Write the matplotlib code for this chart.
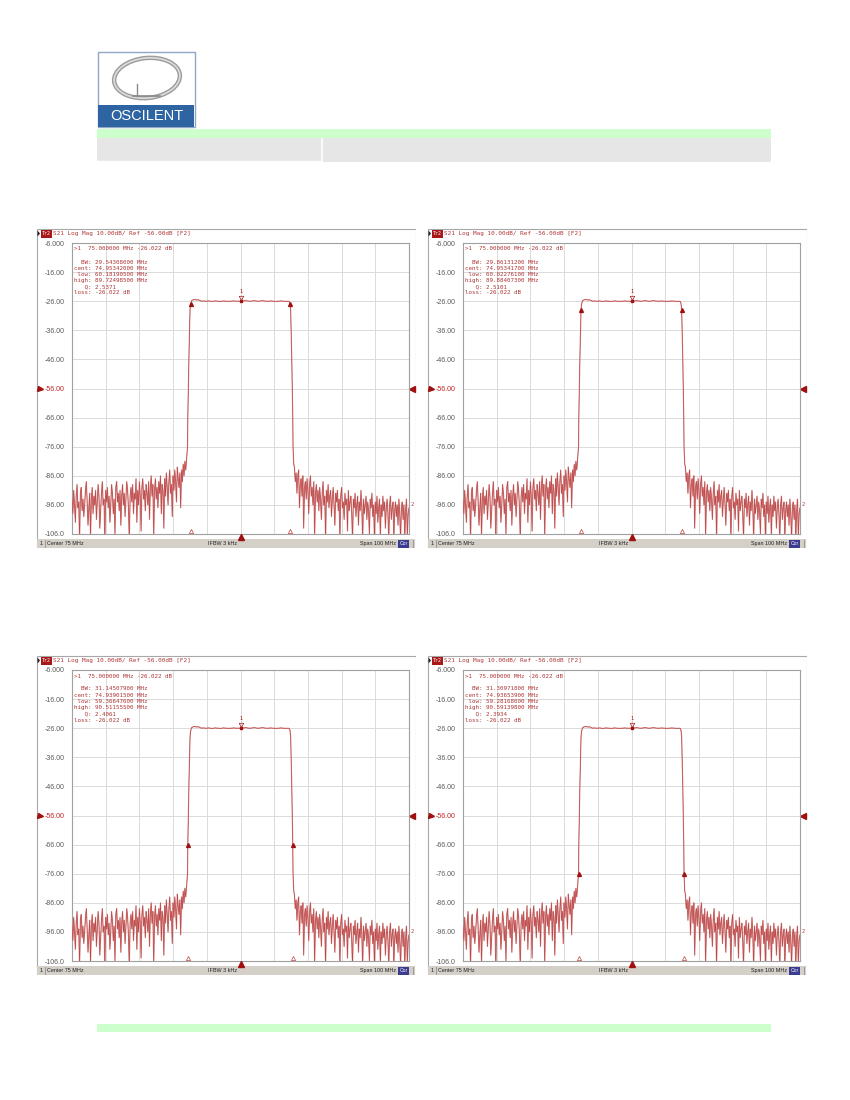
import numpy as np
import matplotlib
matplotlib.use("Agg")
import matplotlib.pyplot as plt
from matplotlib.patches import Rectangle, Ellipse, Polygon
from matplotlib.transforms import blended_transform_factory, ScaledTranslation

W, H = 850, 1100

# ---------------- data ----------------
# left stop-band noise, 25.0 MHz onward, 0.25 MHz step
noise_left = [-94, -99, -91, -96, -102, -93, -89, -97, -95, -108,
              -92, -90, -98, -94, -100, -96, -91, -88, -95, -103,
              -97, -92, -107, -94, -90, -99, -93, -96, -91, -101,
              -95, -89, -93, -104, -98, -92, -88, -96, -94, -109,
              -91, -95, -90, -97, -93, -102, -96, -89, -92, -99,
              -94, -106, -90, -88, -95, -92, -98, -91, -103, -93,
              -89, -96, -92, -100, -94, -88, -91, -97, -108, -93,
              -90, -95, -89, -99, -92, -94, -87, -102, -91, -96,
              -88, -93, -105, -90, -87, -94, -91, -98, -89, -92,
              -96, -88, -101, -90, -86, -93, -89, -107, -91, -87,
              -94, -90, -97, -88, -92, -86, -99, -89, -91, -104,
              -87, -93, -85, -90, -96, -88, -84, -92, -89, -100,
              -86, -91, -84, -88, -95, -83, -87, -90, -85, -97,
              -84, -88, -82, -86, -81, -84]
left_start = 25.0
skirt_left_freq = [59.0, 59.28168, 59.366476, 59.7, 60.022761, 60.181905]
skirt_left_db = [-80.0, -76.02, -66.02, -45.0, -29.02, -27.02]
# pass band, 60.5 MHz onward, 0.5 MHz step
pass_db = [-25.8, -25.5, -25.4, -25.6, -25.5, -25.8, -26.0, -25.9, -26.0, -26.0,
           -25.9, -26.0, -26.1, -26.0, -25.9, -26.0, -26.0, -26.1, -26.0, -25.9,
           -26.0, -26.0, -26.1, -26.0, -26.0, -25.9, -26.0, -26.0, -26.0, -26.02,
           -26.0, -25.9, -25.8, -25.9, -26.0, -26.0, -25.9, -25.8, -25.9, -26.0,
           -26.0, -25.9, -25.8, -25.9, -26.0, -26.0, -26.0, -25.9, -26.0, -26.0,
           -26.1, -26.0, -26.0, -25.9, -26.0, -26.0, -26.1, -26.0, -26.1]
pass_start = 60.5
pass_step = 0.5
skirt_right_freq = [89.724985, 89.884073, 90.2, 90.511555, 90.591398, 90.8]
skirt_right_db = [-27.02, -29.02, -45.0, -66.02, -76.02, -82.0]
# right stop-band noise, 91.0 MHz onward, 0.25 MHz step
noise_right = [-83, -88, -85, -92, -86, -84, -97, -89, -87, -93,
               -86, -104, -90, -88, -94, -87, -91, -99, -89, -86,
               -93, -90, -96, -88, -107, -92, -89, -95, -91, -98,
               -90, -94, -101, -92, -88, -96, -93, -108, -91, -95,
               -89, -97, -93, -91, -100, -94, -90, -96, -103, -92,
               -95, -91, -98, -94, -108, -93, -90, -97, -95, -101,
               -92, -96, -94, -105, -91, -98, -95, -93, -99, -108,
               -94, -97, -92, -100, -96, -93, -103, -95, -98, -91,
               -97, -108, -94, -99, -96, -93, -101, -95, -98, -106,
               -94, -97, -92, -100, -96, -108, -95, -99, -93, -102,
               -97, -94, -107, -96, -100, -93, -98, -95, -104, -97,
               -94, -99, -108, -96, -93, -101, -97, -95, -108, -98,
               -95, -100, -96, -103, -94, -99, -108, -97, -95, -101,
               -96, -108, -98, -94, -107, -99, -97]
right_start = 91.0
noise_step = 0.25

# marker readouts per panel (TL, TR, BL, BR)
panel_low_freq = [60.181905, 60.022761, 59.366476, 59.28168]
panel_high_freq = [89.724985, 89.884073, 90.511555, 90.591398]
panel_level_db = [-27.022, -29.022, -66.022, -76.022]
panel_bw = ["29.54308000", "29.86131200", "31.14507900", "31.30971800"]
panel_cent = ["74.95342000", "74.95341700", "74.93901500", "74.93653900"]
panel_low = ["60.18190500", "60.02276100", "59.36647600", "59.28168000"]
panel_high = ["89.72498500", "89.88407300", "90.51155500", "90.59139800"]
panel_q = ["2.5371", "2.5101", "2.4061", "2.3934"]
marker1_freq = 75.0
marker1_db = -26.022
ref_level = -56.0

ytick_values = [-6, -16, -26, -36, -46, -56, -66, -76, -86, -96, -106]
ytick_labels = ["-6.000", "-16.00", "-26.00", "-36.00", "-46.00", "-56.00",
                "-66.00", "-76.00", "-86.00", "-96.00", "-106.0"]
xtick_values = [25, 35, 45, 55, 65, 75, 85, 95, 105, 115, 125]

header_text = "S21 Log Mag 10.00dB/ Ref -56.00dB [F2]"
status_left = "Center 75 MHz"
status_mid = "IFBW 3 kHz"
status_right = "Span 100 MHz"

# ---------------- build trace ----------------
f_left = left_start + noise_step * np.arange(len(noise_left))
f_pass = pass_start + pass_step * np.arange(len(pass_db))
f_right = right_start + noise_step * np.arange(len(noise_right))
trace_f = np.concatenate([f_left, skirt_left_freq, f_pass, skirt_right_freq, f_right])
trace_db = np.concatenate([noise_left, skirt_left_db, pass_db, skirt_right_db, noise_right])

# ---------------- figure ----------------
fig = plt.figure(figsize=(W / 100, H / 100), dpi=100)
fig.patch.set_facecolor("white")


def px_axes(x, y, w, h, z=0):
    return fig.add_axes([x / W, 1 - (y + h) / H, w / W, h / H], zorder=z)


page = px_axes(0, 0, W, H, 0)
page.set_xlim(0, W)
page.set_ylim(H, 0)
page.axis("off")

# logo
page.add_patch(Rectangle((98, 52), 97, 75, facecolor="white", edgecolor="#8fa8c4", lw=1.0))
page.add_patch(Rectangle((98.5, 105), 96, 22, facecolor="#2f64a3", edgecolor="none"))
page.text(146.5, 116.5, "OSCILENT", color="white", fontsize=10.5, ha="center", va="center",
          family="Liberation Sans")
page.add_patch(Ellipse((147, 78), 66, 40, angle=-6, facecolor="none", edgecolor="#9c9c9c", lw=3.2))
page.add_patch(Ellipse((147, 78), 66, 40, angle=-6, facecolor="none", edgecolor="#dcdcdc", lw=1.2))
page.add_patch(Ellipse((143, 81), 50, 26, angle=-6, facecolor="white", edgecolor="none"))
page.plot([137, 137], [84, 96], color="#8a8a8a", lw=1.0)
page.plot([133, 160], [96, 96], color="#8a8a8a", lw=1.2)

# header bars
page.add_patch(Rectangle((97, 129), 674, 9, facecolor="#ccffcc", edgecolor="none"))
page.add_patch(Rectangle((97, 138), 674, 24, facecolor="#e6e6e6", edgecolor="none"))
page.plot([322, 322], [139, 162], color="white", lw=1.2)
page.plot([97, 321], [160.5, 160.5], color="white", lw=1.0)
# footer bar
page.add_patch(Rectangle((97, 1024), 674, 8, facecolor="#ccffcc", edgecolor="none"))

origins = [(36, 228), (427, 228), (36, 655), (427, 655)]
PX_L, PX_T, PX_W, PX_H = 36, 15, 337, 291
red_txt = "#b03636"
mono = "DejaVu Sans Mono"

for i, (x0, y0) in enumerate(origins):
    bg = px_axes(x0, y0, 380, 320, 1)
    bg.set_xlim(0, 380)
    bg.set_ylim(320, 0)
    bg.axis("off")
    bg.add_patch(Rectangle((0.5, 0.5), 379, 319, facecolor="white", edgecolor="#a8a8a8", lw=0.8))
    # header
    bg.add_patch(Polygon([[1.5, 2.5], [1.5, 8.5], [4.0, 5.5]], closed=True, facecolor="#202020"))
    bg.add_patch(Rectangle((4.5, 1.5), 11, 8, facecolor="#a81818", edgecolor="none"))
    bg.text(10, 5.6, "Tr2", color="white", fontsize=3.6, ha="center", va="center", family=mono)
    bg.text(17, 5.6, header_text, color=red_txt, fontsize=4.3, ha="left", va="center", family=mono)
    # status bar
    bg.add_patch(Rectangle((1, 311), 378, 9, facecolor="#d4d0c8", edgecolor="none"))
    bg.plot([8.5, 8.5], [312, 319.5], color="#909090", lw=0.6)
    bg.plot([376.5, 376.5], [312, 319.5], color="#909090", lw=0.6)
    bg.text(4, 315.8, "1", color="#202020", fontsize=3.9, ha="left", va="center", family="Liberation Sans")
    bg.text(11, 315.8, status_left, color="#202020", fontsize=3.9, ha="left", va="center",
            family="Liberation Sans")
    bg.text(172, 315.8, status_mid, color="#202020", fontsize=3.9, ha="left", va="center",
            family="Liberation Sans")
    bg.text(360, 315.8, status_right, color="#202020", fontsize=3.9, ha="right", va="center",
            family="Liberation Sans")
    bg.add_patch(Rectangle((362, 311.5), 11, 8, facecolor="#3b3b8f", edgecolor="none"))
    bg.text(367.5, 315.8, "Cor", color="white", fontsize=3.6, ha="center", va="center",
            family="Liberation Sans")

    ax = px_axes(x0 + PX_L, y0 + PX_T, PX_W, PX_H, 2)
    ax.patch.set_alpha(0)
    ax.set_xlim(25, 125)
    ax.set_ylim(-106, -6)
    ax.set_xticks(xtick_values)
    ax.set_xticklabels([])
    ax.set_yticks(ytick_values)
    ax.set_yticklabels(ytick_labels, fontsize=5.0, color="#5a5a5a", family="Liberation Sans")
    ax.get_yticklabels()[5].set_color("#c02020")
    ax.tick_params(length=0, pad=5)
    ax.grid(True, color="#dadada", lw=0.7)
    ax.set_axisbelow(True)
    for s in ax.spines.values():
        s.set_color("#a0a0a0")
        s.set_linewidth(0.8)

    # trace
    ax.plot(trace_f, trace_db, color="#d48282", lw=0.85, zorder=3)
    ax.plot(trace_f, trace_db, color="#a00000", lw=0.35, alpha=0.5, zorder=3)

    # band-edge markers
    lv = panel_level_db[i]
    ax.plot([panel_low_freq[i], panel_high_freq[i]], [lv, lv], ls="none", marker="^",
            ms=2.8, color="#a01010", zorder=5)
    # marker 1
    ax.plot([marker1_freq], [marker1_db], ls="none", marker="s", ms=2.0, color="#a01010", zorder=5)
    ax.plot([marker1_freq], [marker1_db], ls="none", marker="v", ms=3.2, mfc="none",
            mec="#a01010", mew=0.5, zorder=5,
            transform=ax.transData + ScaledTranslation(0, 3.5 / 100, fig.dpi_scale_trans))
    ax.annotate("1", xy=(marker1_freq, marker1_db), xytext=(0, 5.2), textcoords="offset points",
                ha="center", va="bottom", fontsize=3.8, color="#a01010", family=mono)

    # bottom indicators
    tb = blended_transform_factory(ax.transData, ax.transAxes)
    ax.plot([panel_low_freq[i], panel_high_freq[i]], [0.012, 0.012], ls="none", marker="^",
            ms=3.0, mfc="white", mec="#c04040", mew=0.5, transform=tb, clip_on=False, zorder=6)
    ax.plot([marker1_freq], [-0.012], ls="none", marker="^", ms=3.8, color="#a01010",
            transform=tb, clip_on=False, zorder=6)

    # reference level pointers
    tr = blended_transform_factory(ax.transAxes, ax.transData)
    ax.plot([1.008], [ref_level], ls="none", marker="<", ms=3.8, color="#a01010",
            transform=tr, clip_on=False)
    ax.plot([-0.096], [ref_level], ls="none", marker=">", ms=3.6, color="#a01010",
            transform=tr, clip_on=False)
    ax.text(1.004, noise_right[-1] + 1, "2", transform=tr, fontsize=3.8, color="#b03636",
            ha="left", va="center", family=mono)

    # marker readout block
    def fx(px):
        return (px - PX_L) / PX_W

    def fy(py):
        return 1 - (py - PX_T) / PX_H

    ax.text(fx(38), fy(21), ">1  75.000000 MHz -26.022 dB", transform=ax.transAxes,
            fontsize=4.2, color=red_txt, ha="left", va="center", family=mono)
    rows = [("BW:", panel_bw[i] + " MHz"), ("cent:", panel_cent[i] + " MHz"),
            ("low:", panel_low[i] + " MHz"), ("high:", panel_high[i] + " MHz"),
            ("Q:", panel_q[i]), ("loss:", "-26.022 dB")]
    for k, (lab, val) in enumerate(rows):
        ax.text(fx(38), fy(34 + 6.2 * k), f"{lab:>5} {val}", transform=ax.transAxes,
                fontsize=4.2, color=red_txt, ha="left", va="center", family=mono)

fig.savefig("out.png", dpi=100, facecolor="white")
